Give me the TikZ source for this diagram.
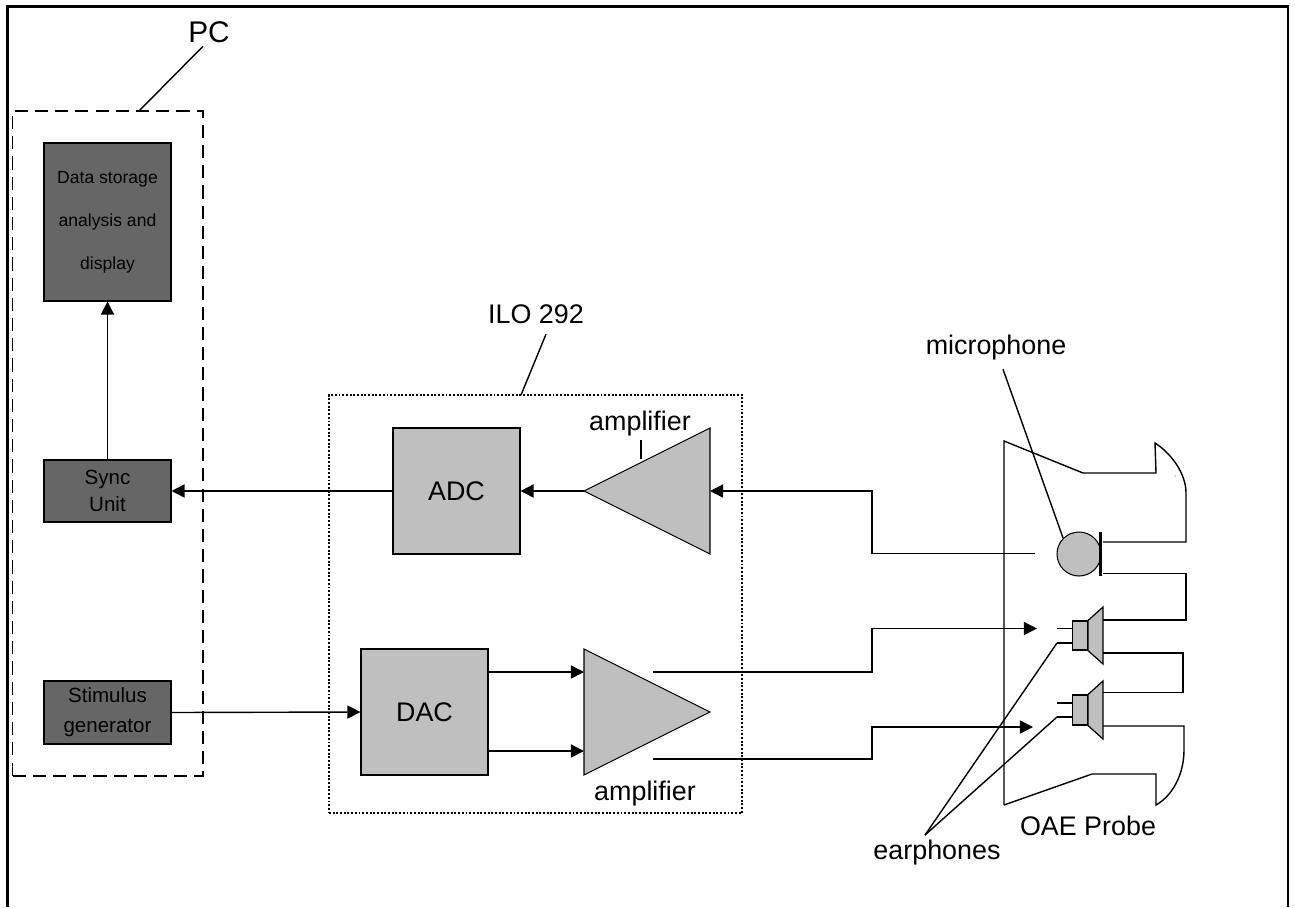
\documentclass[tikz,border=0pt]{standalone}
\usepackage{fontspec}
\setmainfont{Liberation Sans}
\usetikzlibrary{arrows.meta, calc, positioning}

\begin{document}
\begin{tikzpicture}[
  x=0.02cm, y=-0.02cm,
  line width=0.8pt,
  box/.style={draw, line width=0.6pt, minimum width=2.54cm, align=center},
  pcbox/.style={box, fill=black!60, font=\fontsize{11.7}{15.3}\selectfont},
  ilobox/.style={box, fill=black!25, minimum height=2.52cm, font=\fontsize{15.3}{18}\selectfont},
  tri/.style={draw, line width=0.6pt, fill=black!25},
  cone/.style={draw, line width=0.7pt, fill=black!25},
  arr/.style={-{Triangle[length=7.5pt, width=7.5pt]}},
  lbl/.style={font=\fontsize{15.3}{18}\selectfont, inner sep=0pt},
]
  \useasboundingbox (0,0) rectangle (1295,907);

  %% ── Outer frame ──
  \coordinate (fbl) at (7.5,907);
  \coordinate (ftl) at (7.5,6.5);
  \coordinate (ftr) at (1288,6.5);
  \coordinate (fbr) at (1288,907);
  \draw[line width=1.3pt] (fbl) -- (ftl) -- (ftr) -- (fbr);

  %% ── PC ──
  \node[draw, dash pattern=on 7.5pt off 4pt, line width=0.7pt, minimum width=3.81cm,
        minimum height=13.3cm] (pc) at (107.75,443.5) {};
  \node[font=\fontsize{17}{20}\selectfont, inner sep=0pt] (pclabel) at (209,32) {PC};
  \node[pcbox, minimum height=3.16cm, font=\fontsize{10}{24.4}\selectfont]
    (store) at (107.5,222) {Data storage\\analysis and\\display};
  \node[pcbox, minimum height=1.24cm] (sync) at (107.5,491) {Sync\\Unit};
  \node[pcbox, minimum height=1.26cm, font=\fontsize{11.7}{17}\selectfont]
    (stim) at (107.5,712.5) {Stimulus\\generator};

  %% ── ILO 292 ──
  \node[draw, densely dotted, line width=1.1pt, minimum width=8.26cm,
        minimum height=8.36cm] (ilo) at (535.5,604) {};
  \node[lbl] (ilolabel) at (536,314) {ILO 292};
  \node[ilobox] (adc) at (456.5,491) {ADC};
  \node[ilobox] (dac) at (424.5,712) {DAC};

  \coordinate (ampa) at (584,491);
  \coordinate (ampb) at (710,428);
  \coordinate (ampc) at (710,554);
  \draw[tri] (ampa) -- (ampb) -- (ampc) -- cycle;
  \coordinate (ampd) at (710,712);
  \coordinate (ampe) at (584,649);
  \coordinate (ampf) at (584,775);
  \draw[tri] (ampd) -- (ampe) -- (ampf) -- cycle;
  \node[lbl] (amptop) at (640,424) {amplifier};
  \node[lbl] (ampbot) at (645,794) {amplifier};

  %% ── OAE Probe ──
  \coordinate (ptl) at (1004,441);
  \coordinate (pbl) at (1004,805);
  \draw (pbl) -- (ptl) -- (1083,473) -- (1156,473) -- (1155,443)
    .. controls (1172,454) and (1186,474) .. (1186,493) -- (1186,542) -- (1103,542);
  \draw (1103,573.5) -- (1186,573.5) -- (1186,620) -- (1103,620);
  \draw (1103,653) -- (1183,653) -- (1183,692.5) -- (1103,692.5);
  \draw (1103,726) -- (1184,726) -- (1184,750)
    .. controls (1184,775) and (1172,796) .. (1156,805) -- (1156,774) -- (1092,774) -- (pbl);
  \fill (1175,476) circle (0.5);
  \node[lbl] (probe) at (1088,826) {OAE Probe};

  %% ── Microphone ──
  \node[draw, circle, fill=black!25, inner sep=0pt, line width=0.6pt, minimum size=0.88cm]
    (mic) at (1079,554) {};
  \draw[line width=1.2pt] (1100.5,532) -- (1100.5,576);
  \node[lbl] (miclabel) at (996,348) {microphone};
  \coordinate (micin) at (1035,553.5);

  %% ── Earphones ──
  \node[box, fill=black!25, minimum width=0.3cm, minimum height=0.58cm, inner sep=0pt]
    (ear1) at (1080,635.5) {};
  \draw[cone] (ear1.north east) -- (1103,607) -- (1103,664) -- (ear1.south east) -- cycle;
  \node[box, fill=black!25, minimum width=0.3cm, minimum height=0.6cm, inner sep=0pt]
    (ear2) at (1080,710) {};
  \draw[cone] (ear2.north east) -- (1103,681) -- (1103,739) -- (ear2.south east) -- cycle;

  \coordinate (e1a) at (1057,628.5);
  \coordinate (e1b) at (1057,643);
  \coordinate (e2a) at (1057,703);
  \coordinate (e2b) at (1057,717);
  \draw[line width=0.6pt] (e1a) -- (e1a -| ear1.west);
  \draw[line width=0.6pt] (e1b) -- (e1b -| ear1.west);
  \draw[line width=0.6pt] (e2a) -- (e2a -| ear2.west);
  \draw[line width=0.6pt] (e2b) -- (e2b -| ear2.west);
  \node[lbl] (earlabel) at (937,853) {earphones};
  \coordinate (earjoin) at (925,835);

  %% ═══════ ARROWS ═══════
  \draw[arr] (sync.north) -- (store.south);
  \draw[arr] (adc.west) -- (sync.east);
  \draw[arr] (ampa) -- (adc.east);
  \draw[arr] (micin) -- (872,553.5) -- (872,491) -- (ampc |- ampa);
  \draw[arr] (stim.east) -- (dac.west);
  \draw[arr] (488,672) -- (584,672);
  \draw[arr] (488,751) -- (584,751);
  \draw[arr] (653,672) -- (872,672) -- (872,628.5) -- (1037,628.5);
  \draw[arr] (653,759) -- (872,759) -- (872,727) -- (1033,727);

  %% ═══════ LEADERS ═══════
  \draw (pclabel.south) ++(-6,3) -- (139,111);
  \draw (ilolabel.south) ++(10,10) -- (521,395);
  \draw (amptop.south) ++(1,3) -- ++(0,19);
  \draw (miclabel.south) ++(7,8) -- (mic.north west);
  \draw (earjoin) -- (e1b);
  \draw (earjoin) -- (e2b);
\end{tikzpicture}
\end{document}
